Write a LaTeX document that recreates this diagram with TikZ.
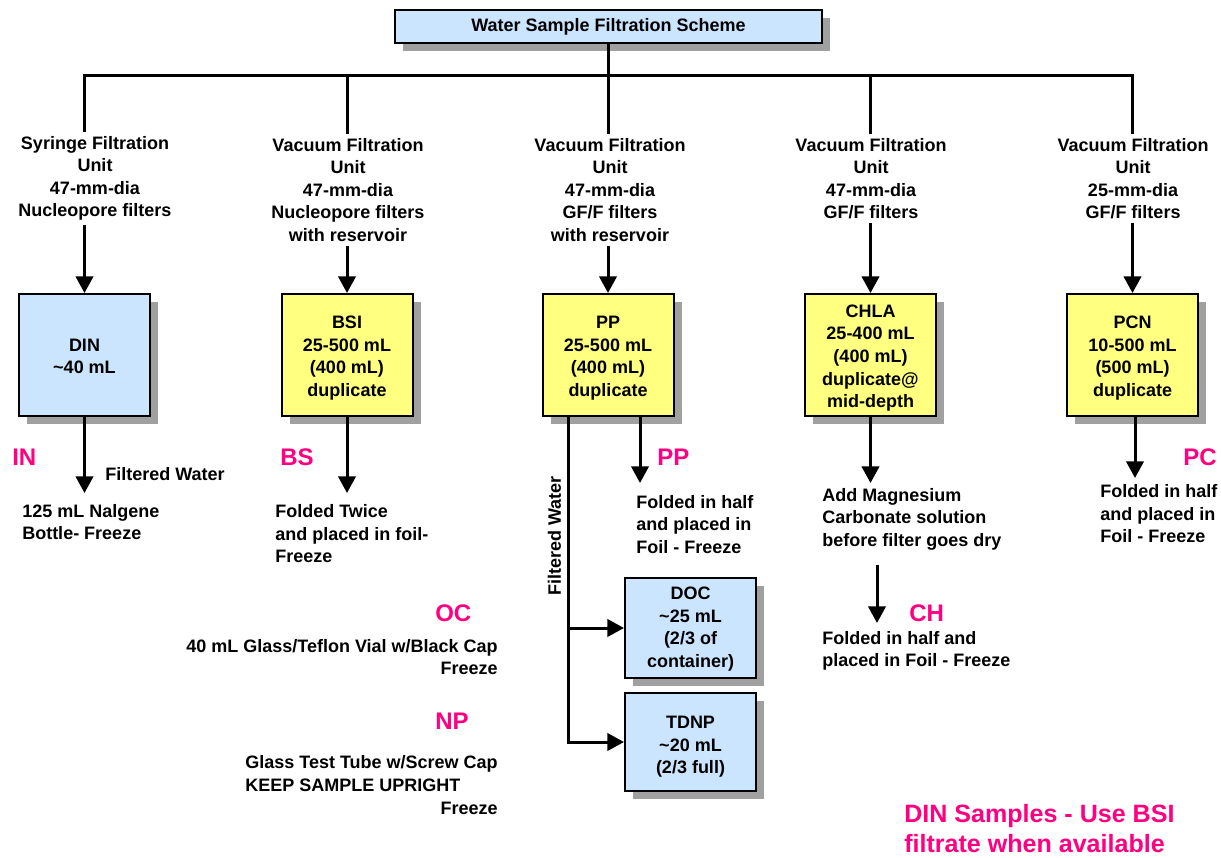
\documentclass[tikz,border=0pt]{standalone}
\usepackage{fontspec}
\setmainfont{Liberation Sans}
\usetikzlibrary{arrows.meta,shadows}
\definecolor{boxblue}{RGB}{204,229,255}
\definecolor{boxyellow}{RGB}{255,255,128}
\definecolor{shadowgray}{RGB}{160,160,160}
\definecolor{labelpink}{RGB}{255,0,128}
\newcommand\topgap[1]{\rule{0pt}{#1}}
\newcommand\botgap{\rule[-4pt]{0pt}{4pt}}
\begin{document}
\begin{tikzpicture}[x=0.75pt,y=-0.75pt,
  txt/.style={font=\fontsize{13.5}{16.9}\selectfont\bfseries, inner sep=0pt},
  hdr/.style={txt, align=center, inner sep=3pt},
  sbox/.style={draw, line width=1.5pt, txt, align=center,
    drop shadow={shadow xshift=6pt, shadow yshift=-6pt, opacity=1, fill=shadowgray},
    minimum width=98.25pt},
  bluebox/.style={sbox, fill=boxblue},
  yelbox/.style={sbox, fill=boxyellow},
  tag/.style={font=\fontsize{18}{21}\selectfont\bfseries, text=labelpink, inner sep=0pt, anchor=west},
  note/.style={txt, align=left, anchor=west},
  conn/.style={line width=2.25pt},
  arr/.style={conn, -{Triangle[width=13pt,length=12.5pt]}}
]
\useasboundingbox (0,0) rectangle (1221,857);

% title
\node[bluebox, minimum width=320.25pt, minimum height=24.75pt] (title) at (608.5,26.5) {Water Sample Filtration Scheme};

% headers
\node[hdr] (hdr1) at (95,178.5) {Syringe Filtration\\Unit\\47-mm-dia\\Nucleopore filters};
\node[hdr] (hdr2) at (348,190) {Vacuum Filtration\\Unit\\47-mm-dia\\Nucleopore filters\\with reservoir};
\node[hdr] (hdr3) at (610,190) {Vacuum Filtration\\Unit\\47-mm-dia\\GF/F filters\\with reservoir};
\node[hdr] (hdr4) at (871,178.5) {Vacuum Filtration\\Unit\\47-mm-dia\\GF/F filters};
\node[hdr] (hdr5) at (1133,178.5) {Vacuum Filtration\\Unit\\25-mm-dia\\GF/F filters};

% main boxes
\node[bluebox, minimum height=91.5pt] (din) at (84.5,355) {\topgap{15.2pt}DIN\\\textasciitilde40 mL\botgap};
\node[yelbox, minimum height=91.5pt] (bsi) at (347,355) {\topgap{15.2pt}BSI\\25-500 mL\\(400 mL)\\duplicate\botgap};
\node[yelbox, minimum height=91.5pt] (pp) at (608,355) {\topgap{15.2pt}PP\\25-500 mL\\(400 mL)\\duplicate\botgap};
\node[yelbox, minimum height=91.5pt] (chla) at (870.5,355) {\topgap{15.2pt}CHLA\\25-400 mL\\(400 mL)\\duplicate@\\mid-depth\botgap};
\node[yelbox, minimum height=91.5pt] (pcn) at (1132.5,355) {\topgap{15.2pt}PCN\\10-500 mL\\(500 mL)\\duplicate\botgap};

% small boxes
\node[bluebox, minimum height=75pt] (doc) at (690.5,628) {\topgap{12.2pt}DOC\\\textasciitilde25 mL\\(2/3 of\\container)\botgap};
\node[bluebox, minimum height=73.5pt] (tdnp) at (690.5,742) {\topgap{17.7pt}TDNP\\\textasciitilde20 mL\\(2/3 full)\botgap};

% tree lines
\coordinate (top) at (608,75);
\draw[conn] (title.south) -- (title.south |- top);
\draw[conn] (din.north |- hdr1.north) |- (top) -| (pcn.north |- hdr5.north);
\draw[conn] (bsi.north |- top) -- (bsi.north |- hdr2.north);
\draw[conn] (pp.north |- top) -- (pp.north |- hdr3.north);
\draw[conn] (chla.north |- top) -- (chla.north |- hdr4.north);

% header arrows
\draw[arr] (din.north |- hdr1.south) -- (din.north);
\draw[arr] (bsi.north |- hdr2.south) -- (bsi.north);
\draw[arr] (pp.north |- hdr3.south) -- (pp.north);
\draw[arr] (chla.north |- hdr4.south) -- (chla.north);
\draw[arr] (pcn.north |- hdr5.south) -- (pcn.north);

% column 1
\coordinate (e1) at (84.5,493);
\draw[arr] (din.south) -- (e1);
\node[tag] (in) at (12,457.5) {IN};
\node[note] (fw1) at (105,474) {Filtered Water};
\node[note] (nal) at (22,522) {125 mL Nalgene\\Bottle- Freeze};

% column 2
\coordinate (e2) at (347,493);
\draw[arr] (bsi.south) -- (e2);
\node[tag] (bs) at (280,457.5) {BS};
\node[note] (fold2) at (275,534) {Folded Twice\\and placed in foil-\\Freeze};

% column 3
\coordinate (e3) at (640,483);
\draw[arr] (pp.south -| e3) -- (e3);
\node[tag] (pplab) at (657,457.5) {PP};
\node[note] (fold3) at (636,524.5) {Folded in half\\and placed in\\Foil - Freeze};
\coordinate (fwx) at (568,0);
\draw[arr] (pp.south -| fwx) |- (tdnp.west);
\draw[arr] (doc.west -| fwx) -- (doc.west);
\node[txt, rotate=90] (fw2) at (554.5,536) {Filtered Water};

% column 4
\coordinate (e4) at (870.5,483);
\draw[arr] (chla.south) -- (e4);
\node[note] (mag) at (822,519) {Add Magnesium\\Carbonate solution\\before filter goes dry};
\coordinate (c4a) at (877,565);
\coordinate (c4b) at (877,623);
\draw[arr] (c4a) -- (c4b);
\node[tag] (ch) at (909,613.5) {CH};
\node[note] (fold4) at (822,651) {Folded in half and\\placed in Foil - Freeze};

% column 5
\coordinate (e5) at (1135,478);
\draw[arr] (pcn.south -| e5) -- (e5);
\node[tag] (pc) at (1183,457.5) {PC};
\node[note] (fold5) at (1100,514) {Folded in half\\and placed in\\Foil - Freeze};

% left notes
\node[tag] (oc) at (435,613.5) {OC};
\node[txt, align=right, anchor=east] (octxt) at (498,657) {40 mL Glass/Teflon Vial w/Black Cap\\Freeze};
\node[tag] (np) at (435,721) {NP};
\node[txt, anchor=east] (nptxt) at (498,787) {\begin{tabular}{@{}l@{}}Glass Test Tube w/Screw Cap\\KEEP SAMPLE UPRIGHT\\\multicolumn{1}{@{}r@{}}{Freeze}\end{tabular}};

% bottom note
\node[font=\fontsize{18.8}{22.5}\selectfont\bfseries, text=labelpink, inner sep=0pt, anchor=west, align=left] (dinnote) at (904,829) {DIN Samples - Use BSI\\filtrate when available};
\end{tikzpicture}
\end{document}
